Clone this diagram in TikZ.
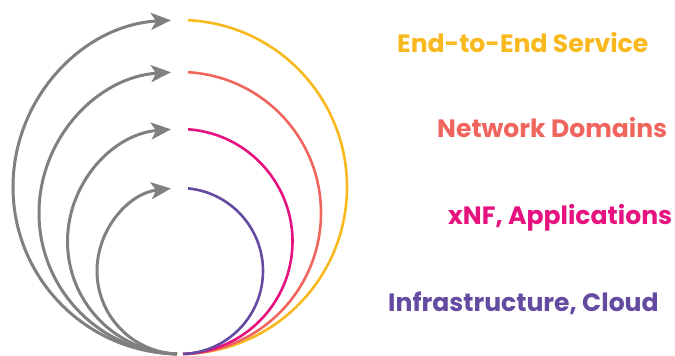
\documentclass[tikz,border=0pt]{standalone}
\usepackage{fontspec}
\setmainfont{Poppins}
\usetikzlibrary{arrows.meta,calc}
\definecolor{cgray}{RGB}{128,128,128}
\definecolor{cyellow}{RGB}{248,184,30}
\definecolor{cred}{RGB}{240,102,94}
\definecolor{cmagenta}{RGB}{230,18,128}
\definecolor{cpurple}{RGB}{100,74,160}
\begin{document}
\begin{tikzpicture}[x=1pt,y=1pt,
  ringarrow/.style={draw=cgray, line width=3pt, -{Stealth[length=20pt,width=17pt,inset=5pt]}},
  ringarc/.style={line width=2.6pt},
  lbl/.style={anchor=base west, inner sep=0pt, font=\bfseries\fontsize{25.1}{28}\selectfont}]
\useasboundingbox (0,0) rectangle (675,356);
\foreach \r/\col in {167/cyellow,141/cred,112.5/cmagenta,83/cpurple}{
  \pgfmathsetmacro{\ta}{90+asin(9/\r)}
  \pgfmathsetmacro{\tb}{90-asin(8/\r)}
  \pgfmathsetmacro{\ba}{-90-asin(3/\r)}
  \pgfmathsetmacro{\bb}{-90+asin(3/\r)}
  \coordinate (c) at (180,{2+\r});
  \draw[ringarrow] ($(c)+(\ba:\r pt)$) arc[start angle=\ba, end angle={\ta-360}, radius=\r pt];
  \draw[ringarc, draw=\col] ($(c)+(\tb:\r pt)$) arc[start angle=\tb, end angle=\bb, radius=\r pt];
}
\node[lbl, text=cyellow] (l1) at (397,303) {End-to-End Service};
\node[lbl, text=cred] (l2) at (437,218) {Network Domains};
\node[lbl, text=cmagenta] (l3) at (448,131) {xNF, Applications};
\node[lbl, text=cpurple] (l4) at (388,44) {Infrastructure, Cloud};
\end{tikzpicture}
\end{document}
